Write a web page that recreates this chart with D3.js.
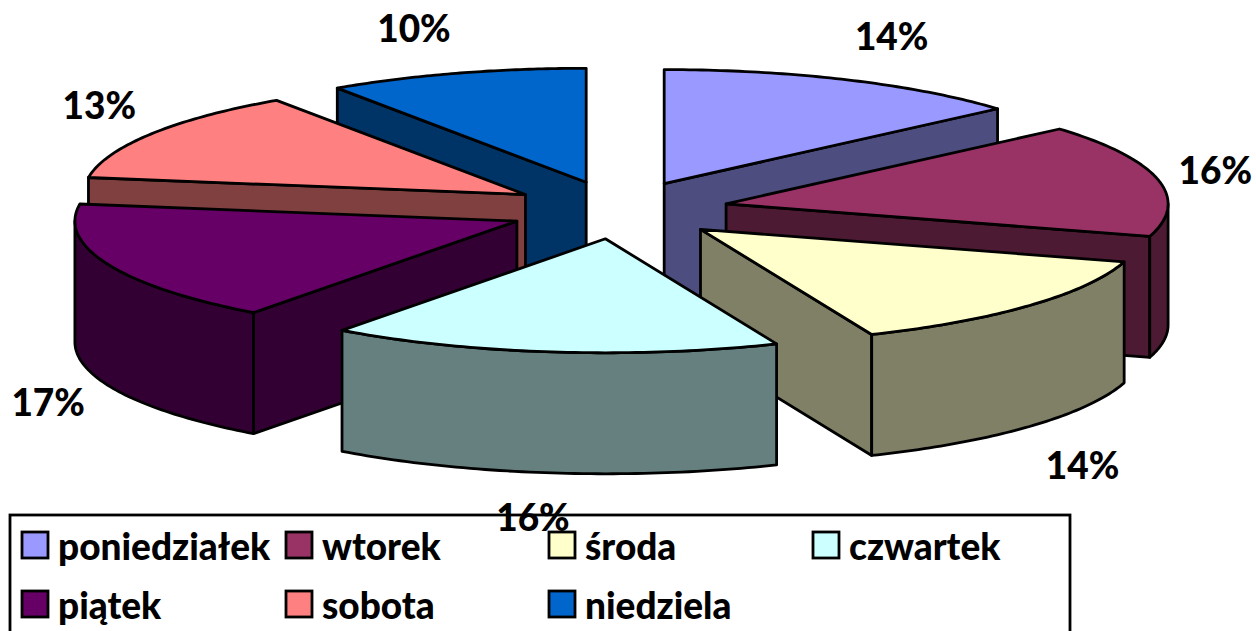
<!DOCTYPE html>
<html>
<head>
<meta charset="utf-8">
<script src="https://cdn.jsdelivr.net/npm/d3@7"></script>
<style>
html, body { margin: 0; padding: 0; background: #fff; overflow: hidden; }
text { font-family: Lato, "Open Sans", sans-serif; font-weight: 900; fill: #000; font-size: 37px; }
</style>
</head>
<body>
<script>
const days = ['poniedziałek', 'wtorek', 'środa', 'czwartek', 'piątek', 'sobota', 'niedziela'];
const shares = [13.6, 16, 14.07, 16.49, 17.23, 13.09, 9.52];
const topColors = ['#9999ff', '#993366', '#ffffcc', '#ccffff', '#660066', '#ff8080', '#0066cc'];
const sideColors = ['#4d4d80', '#4d1a33', '#808066', '#668080', '#330033', '#804040', '#003366'];

const WIDTH = 1256, HEIGHT = 631;
const CX = 618.6, CY = 210;      // pie centre before the slices are pulled out
const RX = 442, RY = 114;        // squashed top ellipse
const DEPTH = 121;
const EX = 110, EY = 29;         // explosion
const LABEL_RX = 630, LABEL_RY = 190;
const labelNudgeX = [12, -19, -5, -10, 12, 14, -19];
const labelNudgeY = [0, 1, 8, -2, 0, -3, 1];

const svg = d3.select('body').append('svg')
    .attr('width', WIDTH)
    .attr('height', HEIGHT);

const pie = d3.pie().sort(null).startAngle(0).endAngle(2 * Math.PI);
const slices = pie(shares).map((d, i) => {
    const mid = (d.startAngle + d.endAngle) / 2;
    return {
        ...d,
        i,
        mid,
        ax: CX + EX * Math.sin(mid),
        ay: CY - EY * Math.cos(mid)
    };
});

const line = d3.line();
const rim = (s, a) => [s.ax + RX * Math.sin(a), s.ay - RY * Math.cos(a)];
const arcPoints = (s, a0, a1) => d3.range(0, 61).map(k => rim(s, a0 + (a1 - a0) * k / 60));
const drop = p => [p[0], p[1] + DEPTH];

// back to front
const order = slices.slice().sort((a, b) => a.ay - b.ay);

const pieGroup = svg.append('g')
    .attr('stroke', '#000')
    .attr('stroke-width', 2.8)
    .attr('stroke-linejoin', 'round');

function cutFace(s, a) {
    const apex = [s.ax, s.ay], p = rim(s, a);
    return line([apex, p, drop(p), drop(apex)]) + 'Z';
}

order.forEach(s => {
    const g = pieGroup.append('g');
    const side = sideColors[s.i];

    if (Math.sin(s.startAngle) < -1e-6) {
        g.append('path').attr('d', cutFace(s, s.startAngle)).attr('fill', side);
    }
    if (Math.sin(s.endAngle) > 1e-6) {
        g.append('path').attr('d', cutFace(s, s.endAngle)).attr('fill', side);
    }

    const w0 = Math.max(s.startAngle, Math.PI / 2);
    const w1 = Math.min(s.endAngle, 3 * Math.PI / 2);
    if (w1 > w0) {
        const pts = arcPoints(s, w0, w1);
        g.append('path')
            .attr('d', line(pts.concat(pts.map(drop).reverse())) + 'Z')
            .attr('fill', side);
    }

    g.append('path')
        .attr('d', line([[s.ax, s.ay], ...arcPoints(s, s.startAngle, s.endAngle)]) + 'Z')
        .attr('fill', topColors[s.i]);
});

// legend
const legendCols = d3.scaleOrdinal().domain([0, 1, 2, 3]).range([22, 286, 549, 813]);
const legendRows = d3.scaleOrdinal().domain([0, 1]).range([532, 591]);

svg.append('rect')
    .attr('x', 10).attr('y', 515)
    .attr('width', 1060).attr('height', 140)
    .attr('fill', '#fff')
    .attr('stroke', '#000')
    .attr('stroke-width', 2.8);

const legend = svg.append('g').selectAll('g')
    .data(days)
    .join('g')
    .attr('transform', (d, i) => `translate(${legendCols(i % 4)},${legendRows(Math.floor(i / 4))})`);

legend.append('rect')
    .attr('width', 26).attr('height', 26)
    .attr('fill', (d, i) => topColors[i])
    .attr('stroke', '#000')
    .attr('stroke-width', 2.8);

legend.append('text')
    .attr('x', 36)
    .attr('y', 28)
    .text(d => d);

// value labels
const total = d3.sum(shares);
const pct = d3.format('.0%');
svg.append('g').selectAll('text')
    .data(slices)
    .join('text')
    .attr('text-anchor', 'middle')
    .attr('x', s => CX + LABEL_RX * Math.sin(s.mid) + labelNudgeX[s.i])
    .attr('y', s => {
        const c = Math.cos(s.mid);
        return CY - LABEL_RY * c + (c < 0 ? DEPTH : 0) + 13 + labelNudgeY[s.i];
    })
    .text(s => pct(s.data / total));
</script>
</body>
</html>
